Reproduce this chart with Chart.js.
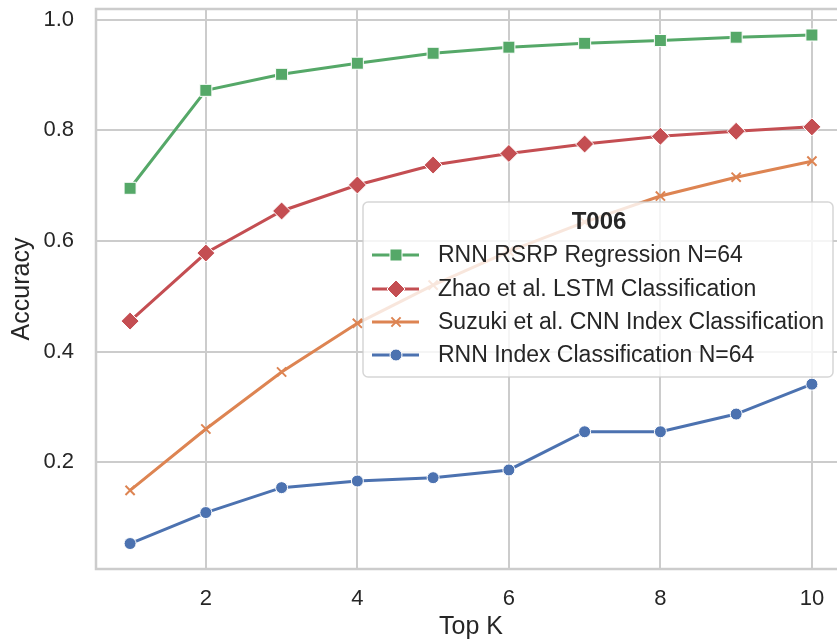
<!DOCTYPE html>
<html>
<head>
<meta charset="utf-8">
<script src="https://cdn.jsdelivr.net/npm/chart.js@4"></script>
<style>
  html, body { margin: 0; padding: 0; background: #fff; overflow: hidden; }
  #wrap { width: 846px; height: 642px; }
</style>
</head>
<body>
<div id="wrap"><canvas id="chart" width="846" height="642"></canvas></div>
<script>
// === DATA ===
const topK = [1, 2, 3, 4, 5, 6, 7, 8, 9, 10];
const rnnRsrp   = [0.695, 0.872, 0.901, 0.921, 0.939, 0.950, 0.957, 0.962, 0.968, 0.972];
const zhaoLstm  = [0.455, 0.578, 0.654, 0.701, 0.737, 0.758, 0.775, 0.789, 0.798, 0.806];
const suzukiCnn = [0.149, 0.260, 0.363, 0.451, 0.520, 0.581, 0.634, 0.681, 0.715, 0.744];
const rnnIndex  = [0.053, 0.109, 0.154, 0.166, 0.172, 0.186, 0.255, 0.255, 0.287, 0.341];
const xTicks = [2, 4, 6, 8, 10];
const yTicks = [0.2, 0.4, 0.6, 0.8, 1.0];
const legendTitle = 'T006';

const FONT = "'Liberation Sans', Arial, sans-serif";
const TEXT = '#262626';
const GRID = '#cccccc';

const series = [
  { label: 'RNN RSRP Regression N=64', data: rnnRsrp, color: '#55A868', style: 'rect', r: 8.5 },
  { label: 'Zhao et al. LSTM Classification', data: zhaoLstm, color: '#C44E52', style: 'rectRot', r: 9 },
  { label: 'Suzuki et al. CNN Index Classification', data: suzukiCnn, color: '#DD8452', style: 'crossRot', r: 6.5 },
  { label: 'RNN Index Classification N=64', data: rnnIndex, color: '#4C72B0', style: 'circle', r: 6 }
];

// === MARKER HELPER (legend) ===
function drawMarker(ctx, s, x, y) {
  ctx.save();
  ctx.fillStyle = s.color;
  ctx.strokeStyle = '#ffffff';
  ctx.lineWidth = 1;
  ctx.beginPath();
  if (s.style === 'rect') {
    const h = s.r * Math.SQRT1_2;
    ctx.rect(x - h, y - h, 2 * h, 2 * h);
    ctx.fill(); ctx.stroke();
  } else if (s.style === 'rectRot') {
    ctx.moveTo(x, y - s.r); ctx.lineTo(x + s.r, y); ctx.lineTo(x, y + s.r); ctx.lineTo(x - s.r, y);
    ctx.closePath(); ctx.fill(); ctx.stroke();
  } else if (s.style === 'circle') {
    ctx.arc(x, y, s.r, 0, Math.PI * 2);
    ctx.fill(); ctx.stroke();
  } else {
    const d = s.r * Math.SQRT1_2;
    ctx.strokeStyle = s.color; ctx.lineWidth = 2;
    ctx.moveTo(x - d, y - d); ctx.lineTo(x + d, y + d);
    ctx.moveTo(x + d, y - d); ctx.lineTo(x - d, y + d);
    ctx.stroke();
  }
  ctx.restore();
}

// === SPINES ===
const spines = {
  id: 'spines',
  beforeDatasetsDraw(chart) {
    const { ctx, chartArea: a } = chart;
    ctx.save();
    ctx.strokeStyle = GRID;
    ctx.lineWidth = 2.5;
    ctx.strokeRect(a.left, a.top, a.right - a.left, a.bottom - a.top);
    ctx.restore();
  }
};

// === LEGEND BOX (inside plot) ===
const legendBox = {
  id: 'legendBox',
  afterDatasetsDraw(chart) {
    const ctx = chart.ctx;
    const bx = 363, by = 202, bw = 470, bh = 175;
    ctx.save();
    ctx.beginPath();
    ctx.roundRect(bx, by, bw, bh, 5);
    ctx.fillStyle = 'rgba(255,255,255,0.8)';
    ctx.fill();
    ctx.strokeStyle = 'rgba(204,204,204,0.8)';
    ctx.lineWidth = 1.5;
    ctx.stroke();

    ctx.fillStyle = TEXT;
    ctx.textAlign = 'center';
    ctx.textBaseline = 'middle';
    ctx.font = 'bold 24px ' + FONT;
    ctx.fillText(legendTitle, 599, 222);

    const rows = [255, 289, 322, 355];
    ctx.font = '23px ' + FONT;
    ctx.textAlign = 'left';
    series.forEach((s, i) => {
      const y = rows[i];
      ctx.strokeStyle = s.color;
      ctx.lineWidth = 3;
      ctx.beginPath();
      ctx.moveTo(372, y); ctx.lineTo(419, y);
      ctx.stroke();
      drawMarker(ctx, s, 396, y);
      ctx.fillStyle = TEXT;
      ctx.fillText(s.label, 438, y + 1);
    });
    ctx.restore();
  }
};

// === CHART ===
new Chart(document.getElementById('chart'), {
  type: 'line',
  data: {
    datasets: series.map(s => ({
      label: s.label,
      data: topK.map((k, i) => ({ x: k, y: s.data[i] })),
      borderColor: s.color,
      backgroundColor: s.color,
      borderWidth: 3,
      tension: 0,
      pointStyle: s.style,
      pointRadius: s.r,
      pointHoverRadius: s.r,
      pointBackgroundColor: s.color,
      pointBorderColor: s.style === 'crossRot' ? s.color : '#ffffff',
      pointBorderWidth: s.style === 'crossRot' ? 2 : 1,
      clip: false
    })).reverse()
  },
  options: {
    responsive: false,
    animation: false,
    devicePixelRatio: 1,
    layout: { autoPadding: false, padding: { top: 9, right: 0, left: 0, bottom: 0 } },
    plugins: { legend: { display: false }, tooltip: { enabled: false } },
    scales: {
      x: {
        type: 'linear',
        min: 0.55, max: 10.45,
        afterBuildTicks: s => { s.ticks = xTicks.map(v => ({ value: v })); },
        afterFit: s => { s.height = 73; s.paddingLeft = 0; s.paddingRight = 0; },
        grid: { color: GRID, lineWidth: 2, drawTicks: false },
        border: { display: false },
        ticks: { color: TEXT, font: { family: FONT, size: 22 }, padding: 17, maxRotation: 0,
                 callback: v => String(v) },
        title: { display: true, text: 'Top K', color: TEXT, font: { family: FONT, size: 25 },
                 padding: { top: 0, bottom: 0 } }
      },
      y: {
        type: 'linear',
        min: 0.007, max: 1.019,
        afterBuildTicks: s => { s.ticks = yTicks.map(v => ({ value: v })); },
        afterFit: s => { s.width = 96; s.paddingTop = 0; s.paddingBottom = 0; },
        grid: { color: GRID, lineWidth: 2, drawTicks: false },
        border: { display: false },
        ticks: { color: TEXT, font: { family: FONT, size: 22 }, padding: 22,
                 callback: v => v.toFixed(1) },
        title: { display: true, text: 'Accuracy', color: TEXT, font: { family: FONT, size: 25 },
                 padding: { top: 7, bottom: 0 } }
      }
    }
  },
  plugins: [spines, legendBox]
});
</script>
</body>
</html>
